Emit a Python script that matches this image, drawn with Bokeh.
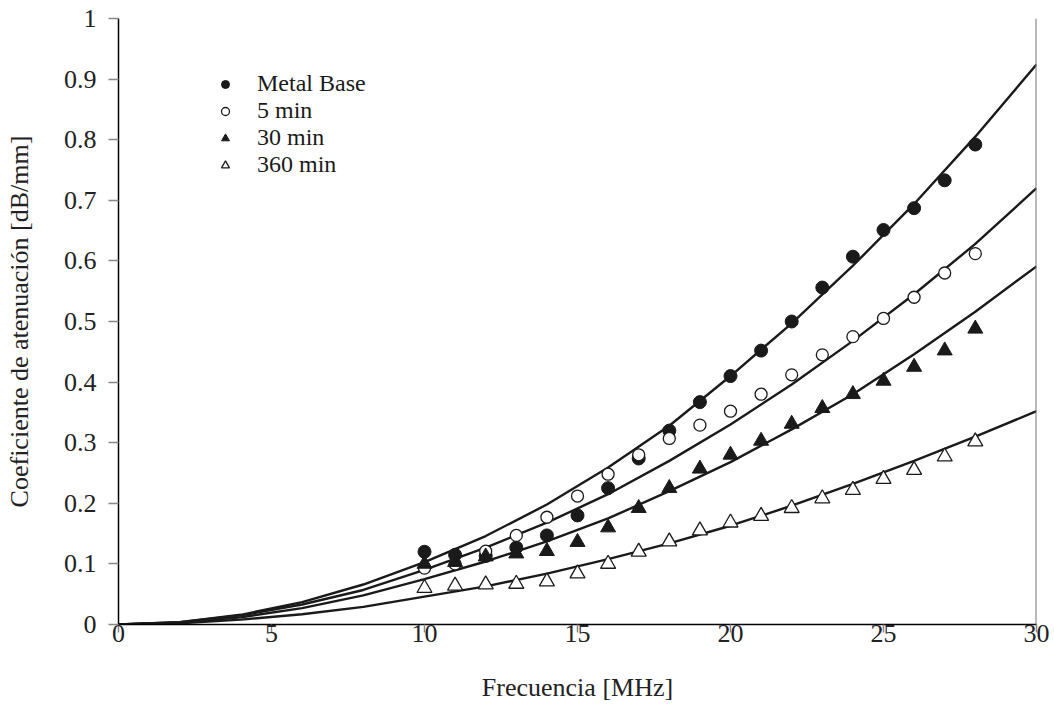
from bokeh.plotting import figure
from bokeh.models import (Range1d, FixedTicker, CustomJSTickFormatter, Legend, LegendItem, Span)
from bokeh.embed import file_html
from bokeh.resources import INLINE

# ---- data ----
freq = [10, 11, 12, 13, 14, 15, 16, 17, 18, 19, 20, 21, 22, 23, 24, 25, 26, 27, 28]
metal_base = [0.120, 0.115, 0.113, 0.127, 0.147, 0.180, 0.225, 0.274, 0.320, 0.367, 0.410,
              0.452, 0.500, 0.556, 0.607, 0.651, 0.687, 0.733, 0.792]
min5 = [0.093, 0.100, 0.121, 0.147, 0.177, 0.212, 0.248, 0.280, 0.307, 0.329, 0.352,
        0.380, 0.412, 0.445, 0.475, 0.505, 0.540, 0.580, 0.612]
min30 = [0.100, 0.103, 0.112, 0.117, 0.121, 0.136, 0.160, 0.192, 0.225, 0.257, 0.280,
         0.303, 0.331, 0.357, 0.380, 0.402, 0.425, 0.452, 0.488]
min360 = [0.060, 0.064, 0.066, 0.067, 0.071, 0.084, 0.100, 0.120, 0.137, 0.155, 0.168,
          0.179, 0.192, 0.208, 0.222, 0.240, 0.255, 0.277, 0.302]

fit_freq = [0, 2, 4, 6, 8, 10, 12, 14, 16, 18, 20, 22, 24, 26, 28, 30]
fit_metal = [0, 0.004, 0.016, 0.037, 0.066, 0.103, 0.146, 0.198, 0.259, 0.328, 0.410, 0.497, 0.592, 0.694, 0.805, 0.924]
fit_5 = [0, 0.004, 0.015, 0.033, 0.057, 0.090, 0.127, 0.168, 0.215, 0.270, 0.330, 0.396, 0.468, 0.545, 0.628, 0.720]
fit_30 = [0, 0.003, 0.012, 0.027, 0.048, 0.075, 0.104, 0.137, 0.175, 0.220, 0.268, 0.322, 0.380, 0.446, 0.516, 0.591]
fit_360 = [0, 0.002, 0.008, 0.017, 0.029, 0.046, 0.063, 0.084, 0.108, 0.134, 0.163, 0.196, 0.232, 0.270, 0.310, 0.352]

x_ticks = [0, 5, 10, 15, 20, 25, 30]
y_ticks = [0, 0.1, 0.2, 0.3, 0.4, 0.5, 0.6, 0.7, 0.8, 0.9, 1]

labels = ["Metal Base", "5 min", "30 min", "360 min"]

FONT = "Liberation Serif"
INK = "#1a1a1a"

p = figure(width=1054, height=715, output_backend="svg", toolbar_location=None,
           x_range=Range1d(0, 30), y_range=Range1d(0, 1),
           min_border_left=118, min_border_right=18, min_border_top=18, min_border_bottom=91)
p.outline_line_color = None
p.xgrid.visible = False
p.ygrid.visible = False
p.background_fill_color = "white"
p.border_fill_color = "white"

# right border
p.add_layout(Span(location=30, dimension="height", line_color="#777777", line_width=2))

# fitted curves
for ys in (fit_metal, fit_5, fit_30, fit_360):
    p.line(fit_freq, ys, line_color=INK, line_width=2.4)

r1 = p.scatter(freq, metal_base, marker="circle", size=13, fill_color=INK, line_color=INK)
r2 = p.scatter(freq, min5, marker="circle", size=12, fill_color="white", line_color=INK, line_width=1.3)
r3 = p.scatter(freq, min30, marker="triangle", size=15, fill_color=INK, line_color=INK)
r4 = p.scatter(freq, min360, marker="triangle", size=15, fill_color="white", line_color=INK, line_width=1.3)

legend = Legend(items=[LegendItem(label=l, renderers=[r]) for l, r in zip(labels, [r1, r2, r3, r4])],
                location=(97, 446), orientation="vertical",
                padding=0, margin=0, spacing=0, glyph_width=20, glyph_height=24, label_height=24,
                label_standoff=22, border_line_color=None, background_fill_alpha=0,
                label_text_font=FONT, label_text_font_size="24px", label_text_color=INK)
p.add_layout(legend, "center")

# axes
for ax in (p.xaxis[0], p.yaxis[0]):
    ax.axis_line_color = "black"
    ax.axis_line_width = 1.5
    ax.major_tick_line_color = "#888888"
    ax.major_tick_line_width = 1.5
    ax.major_tick_in = 0
    ax.minor_tick_line_color = None
    ax.major_label_text_font = FONT
    ax.major_label_text_font_size = "26px"
    ax.major_label_text_color = "#222222"
    ax.axis_label_text_font = FONT
    ax.axis_label_text_font_style = "normal"
    ax.axis_label_text_color = "#222222"

p.xaxis.axis_label_text_font_size = "26px"
p.yaxis.axis_label_text_font_size = "26px"
p.xaxis.ticker = FixedTicker(ticks=x_ticks)
p.yaxis.ticker = FixedTicker(ticks=y_ticks)
p.xaxis.major_tick_out = 8
p.yaxis.major_tick_out = 10
p.xaxis.major_label_standoff = -8
p.yaxis.major_label_standoff = 12
p.yaxis.formatter = CustomJSTickFormatter(code="return String(Number(tick.toFixed(2)));")
p.xaxis.axis_label = "Frecuencia [MHz]"
p.yaxis.axis_label = "Coeficiente de atenuación [dB/mm]"
p.xaxis.axis_label_standoff = 28
p.yaxis.axis_label_standoff = 27

open("out.html", "w").write(file_html(p, INLINE))
